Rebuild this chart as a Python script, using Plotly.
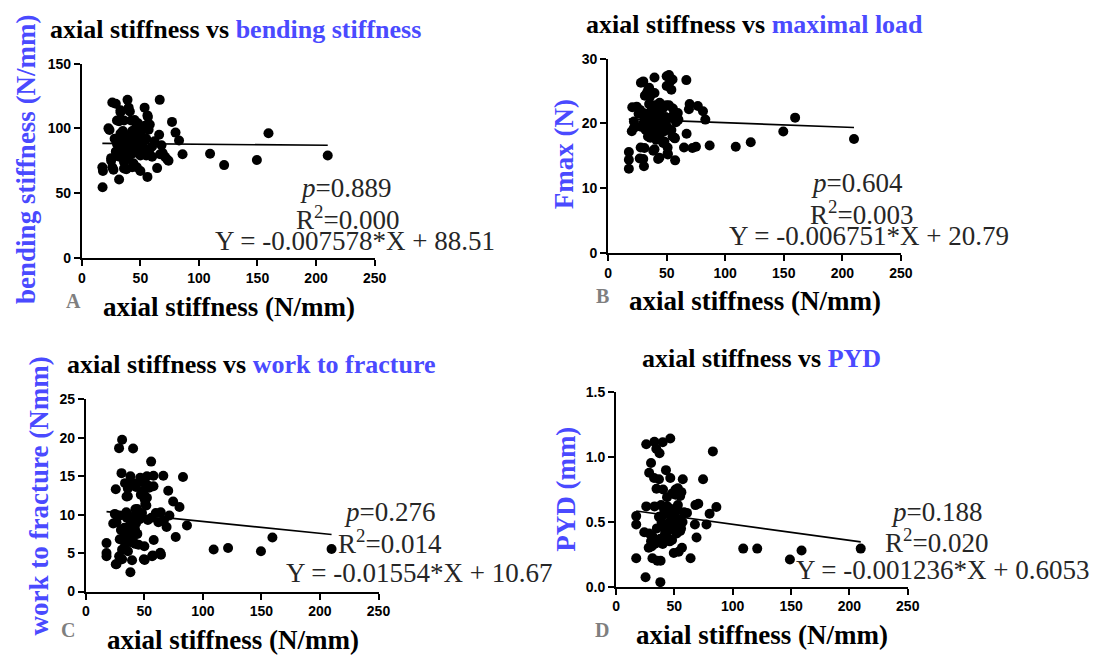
import plotly.graph_objects as go

W, H = 1107, 662

# ---------------- data ----------------
ptsA = [(17.7,54.5),(17.5,70),(18,67),(26,120),(29,119),(39,122),(66.5,122),(23.6,98.7),(33,112.5),(40,116),
        (41,113),(53.6,116),(31.8,105.5),(42,106),(56,110),(77,105),(80,96.7),(83,90.6),(86,80),(109.5,80.4),
        (121.5,71.6),(149.5,75.6),(159.4,96.2),(210,79),(31.8,60.5),(56,62.5),(64.3,69.3),(50,67),(38,68.5),(27,68),
        (25,77),(32,78),(55,79),(69,81),(74,75),(68,87),(66,95),(58,103),(54,102),(33,114),(39.6,114.5),(30,106),
        (36,106),(45,106.5),(56.4,108.8),(22.7,100),(57,99),(66.8,80),(71,78),(73,76),(26,70),(36,69),(43,70),(47,70),
        (25,75),(30,88),(32,84),(34,92),(35,80),(36,86),(37,95),(38,82),(39,89),(40,78),(41,93),(42,85),(43,98),(44,81),
        (45,90),(46,87),(47,96),(48,83),(49,91),(50,79),(51,94),(52,86),(53,100),(35,98),(38,76),(41,88),(44,84),(47,92),
        (50,88),(29,82),(33,96),(37,90),(42,80),(46,100),(51,82),(55,92),(60,86),(62,90),(28,92),(48,104),(44,73),(36,74),
        (58,84),(60,78)]
ptsB = [(17.7,13.0),(17.7,14.4),(17.7,15.6),(30.6,13.4),(27,14.6),(27.8,16.3),(39.6,16),(43.8,14.7),(50.8,15.4),(50.8,16.3),
        (57.2,14.3),(57,17.7),(67,18.4),(64.8,16.3),(72,16.2),(75,16.4),(86.7,16.6),(109,16.4),(121.8,17.1),(149.6,18.75),
        (159.7,20.9),(210,17.6),(28,26.3),(30,26.5),(39.6,27.1),(33,24.7),(39.6,24.7),(35,25.5),(50,27.3),(52,27.5),
        (53,26.5),(50,25.8),(55,26.8),(54,25.2),(66.8,26.7),(69.6,23),(69,22.2),(76.6,22.7),(81,21.9),(83,20.6),
        (20.6,22.5),(26,21.5),(22,19.3),(34.3,25.3),(37,24.8),(31.4,24.3),(35.6,24.1),(24.4,22.6),(27.2,22.1),(30,21.6),
        (44,22.6),(49.7,22.8),(55.3,22.3),(59.5,21.6),(22,20.3),(31,20.8),(20.2,18.8),(56.7,17.8),(47,17),(31,16.2),
        (30,14.5),(38.5,15.8),(42.7,14.5),(51,15.2),(30,20),(32,19),(33,21.5),(34,18),(35,20.5),(36,19.5),(37,22),(38,18.5),
        (39,21),(40,20),(41,17.5),(42,19),(43,21.8),(44,18.2),(45,20.2),(46,19.3),(47,22.4),(48,18.8),(49,21),(50,19.6),
        (52,20.8),(54,19),(56,21.4),(58,20.2),(36,17.8),(40,22.8),(44,23.2),(48,17.2),(52,22.8),(35,23),(46,21),(38,20.2),
        (55,18),(28,19.5),(60,20.6)]
ptsC = [(31,19.75),(28.4,18.65),(40.4,18.6),(55.8,16.9),(30.5,15.4),(66.2,15.05),(83,14.9),(70.4,13.1),(25.6,13.3),(34.8,12.35),
        (74.6,11.7),(80,11.0),(86.4,8.6),(76.8,7.1),(69,8.4),(66.7,9.26),(71.4,9.9),(59.8,10.2),(50.8,11.4),(50.3,12),
        (42.3,10.7),(34.6,10.3),(26.3,9.9),(23.4,8.85),(30,8),(17.7,6.3),(17.7,5.0),(17.7,4.6),(25.6,3.55),(38.1,2.5),
        (39.5,4.06),(50.3,4.1),(57.2,4.7),(64.2,4.8),(58,6.7),(50,5.9),(42.3,6.2),(109.2,5.46),(121.5,5.67),(149.6,5.25),
        (159.4,7.03),(209.9,5.54),(38.1,15),(46.5,14.8),(52.2,15),(57.8,15.05),(33.5,14.1),(40.5,14.1),(47.5,14.3),(52.2,13.9),
        (57.8,13.7),(35.9,13.4),(42.9,13.6),(49.9,13.2),(54.1,13.5),(35.9,12.4),(52.2,12.2),(51.7,11.2),(43.8,10.75),(24.8,10.1),
        (29,9.9),(26.2,9.0),(35,9.6),(38,9.2),(41,9.8),(43,8.9),(46,9.4),(48,10.2),(53,9.3),(56,9.6),(62,9.0),(64,10.3),
        (33,8.3),(36,7.6),(38,8.6),(40,7.2),(42,8.1),(44,7.5),(32,7.0),(35,6.6),(39,6.4),(33.5,6.0),(45,6.1),(31,5.45),
        (36,5.25),(28.5,4.6),(31,4.2),(26.2,3.55),(49.6,4.2),(56.6,4.6),(63.6,5.05),(41,7.8),(41,9.0),(47,12.6),(29,6.8)]
ptsD = [(46.5,1.145),(32.9,1.12),(40,1.115),(25.9,1.10),(34.5,1.065),(37.3,1.03),(83,1.045),(30,0.955),(42.8,0.9),(28.4,0.88),
        (32.6,0.84),(36.8,0.83),(46.5,0.84),(57.2,0.83),(74.6,0.83),(48,0.72),(51,0.75),(53,0.76),(56,0.73),(55,0.70),
        (34.7,0.756),(40.3,0.75),(43.7,0.69),(25.9,0.62),(33,0.62),(38.6,0.63),(41.4,0.59),(47,0.6),(52.7,0.59),(58.3,0.575),
        (68,0.63),(70.5,0.64),(86,0.615),(80.2,0.563),(67.6,0.48),(77.5,0.48),(17.3,0.545),(17.3,0.48),(24.2,0.42),(28.4,0.41),
        (31.2,0.39),(30,0.35),(28,0.3),(35,0.34),(38,0.37),(46,0.35),(52,0.41),(55.7,0.45),(69,0.38),(56.5,0.30),
        (53.7,0.27),(49.5,0.26),(63.9,0.22),(17.3,0.22),(31.2,0.22),(35.4,0.2),(38.2,0.2),(25.3,0.073),(38,0.035),(109,0.294),
        (121,0.294),(149,0.21),(159,0.279),(209.7,0.294),(36.8,0.54),(45.3,0.56),(49.5,0.52),(60.8,0.57),(44,0.47),(48,0.44),
        (52,0.48),(55,0.43),(42,0.41),(36,0.36),(40,0.33),(44,0.38),(48,0.36),(33,0.33),(30.5,0.31),(42,0.45),(39,0.5),
        (46,0.5),(50,0.55),(54,0.52),(57,0.5),(35,0.45),(40,0.55),(44,0.62),(53,0.63),(51,0.71)]

fits = {  # slope, intercept
    "A": (-0.007578, 88.51),
    "B": (-0.006751, 20.79),
    "C": (-0.01554, 10.67),
    "D": (-0.001236, 0.6053),
}
titles_black = ["axial stiffness vs ", "axial stiffness vs ", "axial stiffness vs ", "axial stiffness vs "]
titles_blue = ["bending stiffness", "maximal load", "work to fracture", "PYD"]
ytitles = ["bending stiffness (N/mm)", "Fmax (N)", "work to fracture (Nmm)", "PYD (mm)"]
xtitle = "axial stiffness (N/mm)"
panel_letters = ["A", "B", "C", "D"]
p_vals = ["0.889", "0.604", "0.276", "0.188"]
r2_vals = ["0.000", "0.003", "0.014", "0.020"]
eqs = ["Y = -0.007578*X + 88.51", "Y = -0.006751*X + 20.79", "Y = -0.01554*X + 10.67", "Y = -0.001236*X + 0.6053"]
x_ticks = [0, 50, 100, 150, 200, 250]
y_ticks = [[0, 50, 100, 150], [0, 10, 20, 30], [0, 5, 10, 15, 20, 25], [0.0, 0.5, 1.0, 1.5]]
y_ticktext = [None, None, None, ["0.0", "0.5", "1.0", "1.5"]]

# ---------------- layout geometry (pixels) ----------------
BLUE = "#4a4aff"
SERIF = "Liberation Serif, Times New Roman, serif"
SANS = "Liberation Sans, Arial, sans-serif"

# plot boxes: x0, x1, ytop, ybottom
boxes = [(79, 376, 57, 256), (613, 910, 52, 251), (83, 380, 401, 598), (621, 917, 394, 593)]
title_pos = [(235, 22), (761, 17), (251, 365), (769, 359)]
ytitle_pos = [(23, 155), (569, 150), (35, 500), (570, 493)]
xtitle_pos = [(228, 306), (762, 300), (232, 648), (769, 643)]
letter_pos = [(71, 300), (607, 295), (65, 637), (607, 637)]
stat_pos = [  # (p), (R2), (eq) centers
    [(347, 184), (349, 215), (356, 239)],
    [(866, 179), (870, 210), (878, 234)],
    [(391, 516), (392, 547), (421, 579)],
    [(946, 516), (946, 546), (952, 576)],
]

def px(x):
    return x / W

def py(y):
    return 1 - y / H

fig = go.Figure()
annotations = []
all_pts = [ptsA, ptsB, ptsC, ptsD]
for i, pts in enumerate(all_pts):
    key = panel_letters[i]
    xs = [p[0] for p in pts]
    ys = [p[1] for p in pts]
    suffix = "" if i == 0 else str(i + 1)
    xa, ya = "x" + suffix, "y" + suffix
    fig.add_trace(go.Scatter(x=xs, y=ys, mode="markers", xaxis=xa, yaxis=ya,
                             marker=dict(size=10, color="black"), cliponaxis=False,
                             showlegend=False))
    m, b = fits[key]
    lx = [min(xs), max(xs)]
    fig.add_trace(go.Scatter(x=lx, y=[m * v + b for v in lx], mode="lines", xaxis=xa, yaxis=ya,
                             line=dict(color="black", width=1.6), showlegend=False))
    x0, x1, yt, yb = boxes[i]
    axcommon = dict(showline=True, linecolor="black", linewidth=2, ticks="outside", ticklen=6,
                    tickwidth=2, tickcolor="black", showgrid=False, zeroline=False,
                    tickfont=dict(family=SANS, size=14, color="black", weight="bold"))
    yt_ticks = y_ticks[i]
    fig.update_layout(**{
        "xaxis" + suffix: dict(domain=[px(x0), px(x1)], anchor=ya, range=[0, 250],
                               tickvals=x_ticks, **axcommon),
        "yaxis" + suffix: dict(domain=[py(yb), py(yt)], anchor=xa, range=[yt_ticks[0], yt_ticks[-1]],
                               tickvals=yt_ticks, ticktext=y_ticktext[i], **axcommon),
    })
    tx, ty = title_pos[i]
    annotations.append(dict(x=px(tx), y=py(ty), xref="paper", yref="paper", showarrow=False,
                            xanchor="center", yanchor="middle",
                            text=f"<b>{titles_black[i]}<span style='color:{BLUE}'>{titles_blue[i]}</span></b>",
                            font=dict(family=SERIF, size=26, color="black")))
    yx, yy = ytitle_pos[i]
    annotations.append(dict(x=px(yx), y=py(yy), xref="paper", yref="paper", showarrow=False,
                            xanchor="center", yanchor="middle", textangle=-90,
                            text=f"<b>{ytitles[i]}</b>", font=dict(family=SERIF, size=27, color=BLUE)))
    xx, xy = xtitle_pos[i]
    annotations.append(dict(x=px(xx), y=py(xy), xref="paper", yref="paper", showarrow=False,
                            xanchor="center", yanchor="middle",
                            text=f"<b>{xtitle}</b>", font=dict(family=SERIF, size=27, color="black")))
    lxp, lyp = letter_pos[i]
    annotations.append(dict(x=px(lxp), y=py(lyp), xref="paper", yref="paper", showarrow=False,
                            xanchor="center", yanchor="middle",
                            text=f"<b>{panel_letters[i]}</b>", font=dict(family=SERIF, size=20, color="#7f7f7f")))
    texts = [f"<i>p</i>={p_vals[i]}", f"R<sup>2</sup>={r2_vals[i]}", eqs[i]]
    for (sx, sy), t in zip(stat_pos[i], texts):
        annotations.append(dict(x=px(sx), y=py(sy), xref="paper", yref="paper", showarrow=False,
                                xanchor="center", yanchor="middle", text=t,
                                font=dict(family=SERIF, size=27, color="#262626")))

fig.update_layout(width=W, height=H, margin=dict(l=0, r=0, t=0, b=0),
                  paper_bgcolor="white", plot_bgcolor="white", annotations=annotations)
fig.write_html("out.html")
